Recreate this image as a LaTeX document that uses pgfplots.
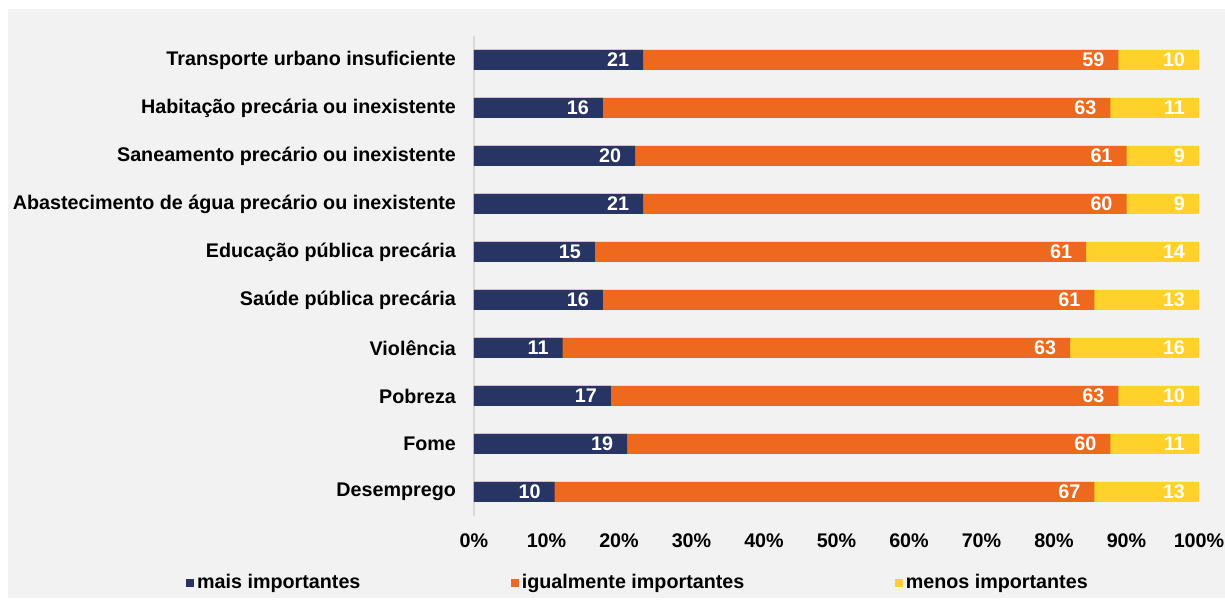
\documentclass[border=0pt]{standalone}
\usepackage{pgfplots}
\pgfplotsset{compat=1.18}
\usepackage{pgfplotstable}
\usepackage{fontspec}
\setmainfont{Liberation Sans}
\definecolor{navy}{HTML}{283464}
\definecolor{orng}{HTML}{EE681E}
\definecolor{yel}{HTML}{FFD12A}
\definecolor{bg}{HTML}{F2F2F2}
\pgfplotstableread{
y a b c
0 10 67 13
1 19 60 11
2 17 63 10
3 11 63 16
4 16 61 13
5 15 61 14
6 21 60 9
7 20 61 9
8 16 63 11
9 21 59 10
}\data
\newcommand{\lf}{\fontsize{14.8}{17}\selectfont\bfseries}
\begin{document}
\begin{tikzpicture}
\path[use as bounding box, fill=white] (0,0) rectangle (918.75pt,452.25pt);
\fill[bg] (6pt,3.75pt) rectangle (918.75pt,445.5pt);
\begin{axis}[at={(355.5pt,65.25pt)}, anchor=south west, scale only axis,
  width=543.75pt, height=360pt,
  xbar, bar shift=0pt, bar width=15pt,
  xmin=0, xmax=100, ymin=-0.5, ymax=9.5,
  /pgf/number format/assume math mode=true,
  ytick={0,...,9},
  yticklabels={Desemprego,Fome,Pobreza,Violência,Saúde pública precária,Educação pública precária,Abastecimento de água precário ou inexistente,Saneamento precário ou inexistente,Habitação precária ou inexistente,Transporte urbano insuficiente},
  xtick={0,10,...,100},
  xticklabel={\pgfmathprintnumber{\tick}\%},
  major tick length=0pt,
  axis x line*=bottom, axis y line*=left,
  x axis line style={draw=none},
  y axis line style={-, draw=black!15, line width=0.8pt},
  ticklabel style={font=\lf},
  xticklabel style={yshift=-10pt},
  yticklabel style={xshift=-10pt},
  point meta=explicit,
  nodes near coords,
  every node near coord/.append style={anchor=east, xshift=-7pt, text=white, font=\lf},
  legend style={at={(-0.397,-0.139)}, anchor=west, draw=none, fill=none,
    legend columns=-1, font=\lf, inner sep=0pt,
    /tikz/every even column/.append style={column sep=111pt}},
  legend image code/.code={\fill[#1] (0pt,-3pt) rectangle (6pt,3pt);},
]
\addlegendimage{fill=navy, draw=none}
\addlegendimage{fill=orng, draw=none}
\addlegendimage{fill=yel, draw=none}
\addplot[fill=yel, draw=none, forget plot] table[y=y, x expr={100*(\thisrow{a}+\thisrow{b}+\thisrow{c})/(\thisrow{a}+\thisrow{b}+\thisrow{c})}, meta=c] \data;
\addplot[fill=orng, draw=none, forget plot] table[y=y, x expr={100*(\thisrow{a}+\thisrow{b})/(\thisrow{a}+\thisrow{b}+\thisrow{c})}, meta=b] \data;
\addplot[fill=navy, draw=none, forget plot] table[y=y, x expr={100*\thisrow{a}/(\thisrow{a}+\thisrow{b}+\thisrow{c})}, meta=a] \data;
\legend{mais importantes, igualmente importantes, menos importantes}
\end{axis}
\end{tikzpicture}
\end{document}
